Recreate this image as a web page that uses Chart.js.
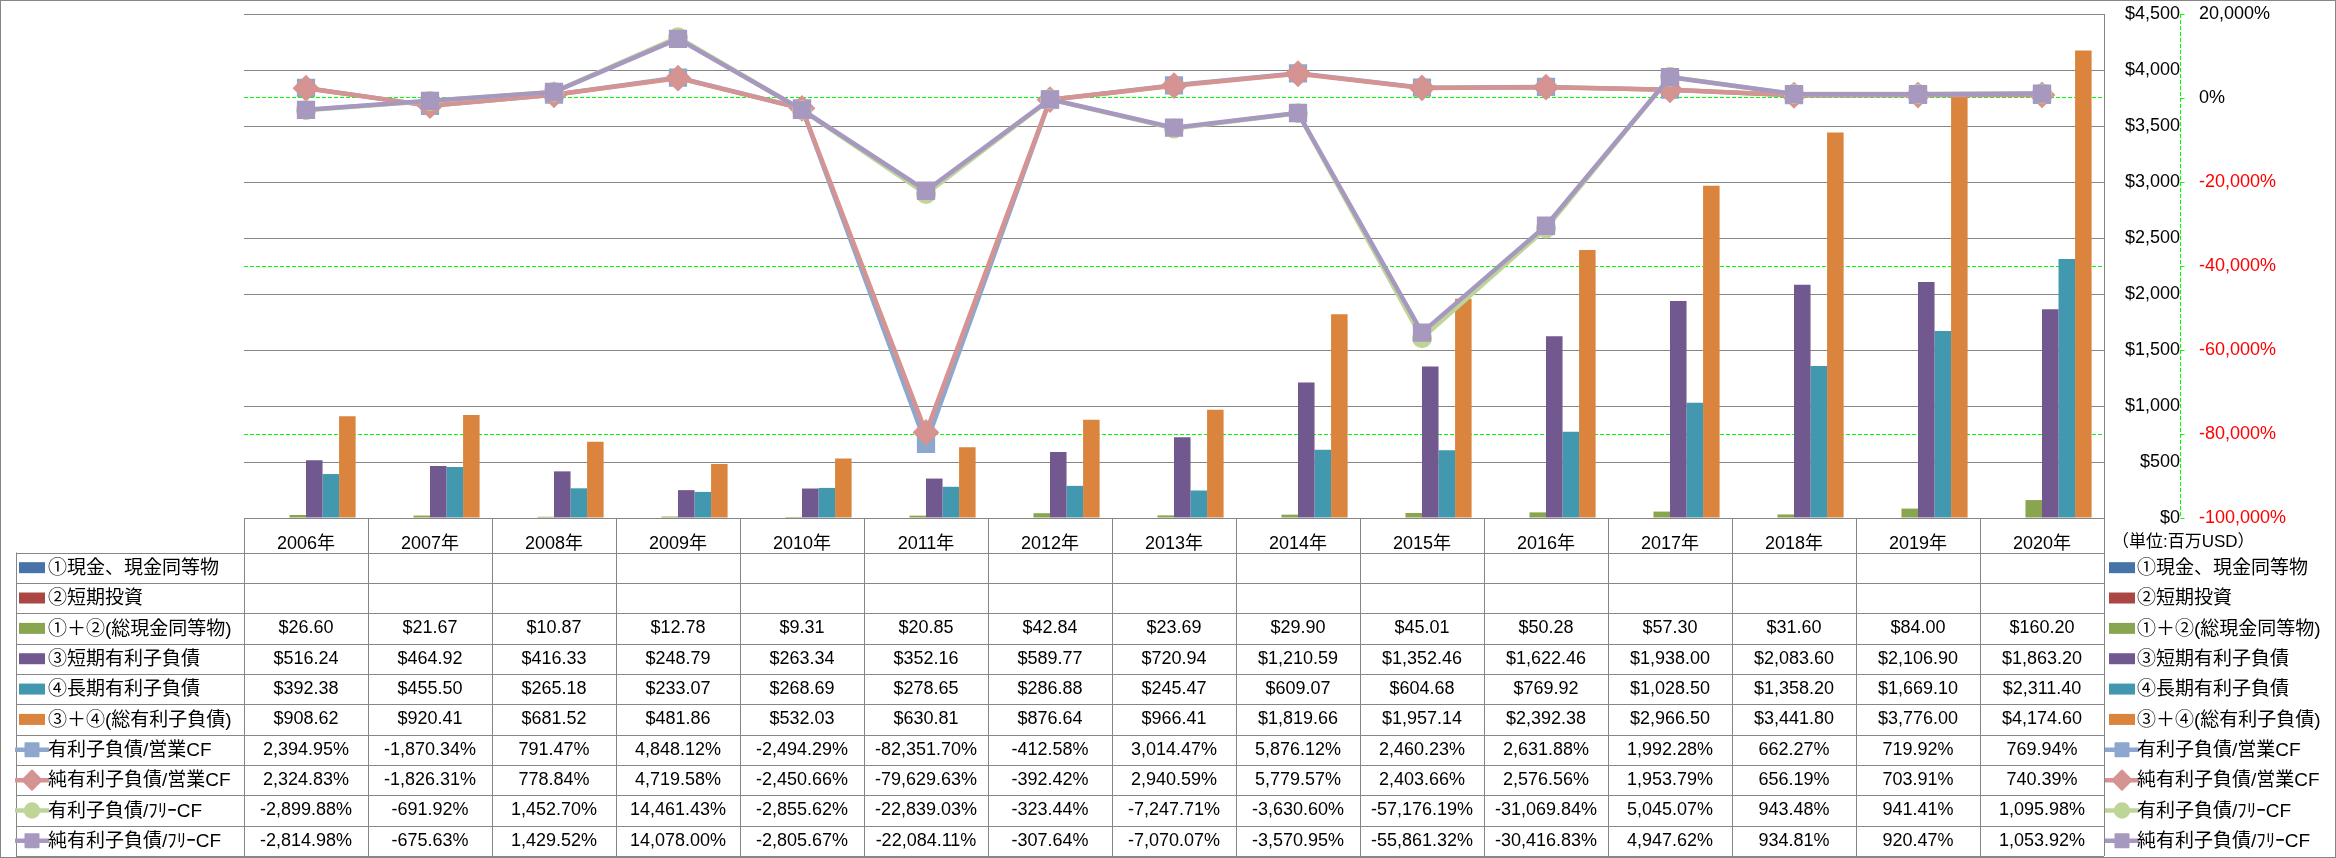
<!DOCTYPE html>
<html><head><meta charset="utf-8">
<script src="https://cdn.jsdelivr.net/npm/chart.js@4.4.1/dist/chart.umd.min.js"></script>
<style>html,body{margin:0;padding:0;background:#fff;} #wrap{width:2336px;height:858px;position:relative;}</style>
</head><body><div id="wrap"><canvas id="c"></canvas></div>
<script>
// ---------- DATA ----------
const categories = ['2006年','2007年','2008年','2009年','2010年','2011年','2012年','2013年','2014年','2015年','2016年','2017年','2018年','2019年','2020年'];
const cashEquivalents = [null,null,null,null,null,null,null,null,null,null,null,null,null,null,null];
const shortTermInvestments = [null,null,null,null,null,null,null,null,null,null,null,null,null,null,null];
const totalCash = [26.60,21.67,10.87,12.78,9.31,20.85,42.84,23.69,29.90,45.01,50.28,57.30,31.60,84.00,160.20];
const shortTermDebt = [516.24,464.92,416.33,248.79,263.34,352.16,589.77,720.94,1210.59,1352.46,1622.46,1938.00,2083.60,2106.90,1863.20];
const longTermDebt = [392.38,455.50,265.18,233.07,268.69,278.65,286.88,245.47,609.07,604.68,769.92,1028.50,1358.20,1669.10,2311.40];
const totalDebt = [908.62,920.41,681.52,481.86,532.03,630.81,876.64,966.41,1819.66,1957.14,2392.38,2966.50,3441.80,3776.00,4174.60];
const debtToOpCF = [2394.95,-1870.34,791.47,4848.12,-2494.29,-82351.70,-412.58,3014.47,5876.12,2460.23,2631.88,1992.28,662.27,719.92,769.94];
const netDebtToOpCF = [2324.83,-1826.31,778.84,4719.58,-2450.66,-79629.63,-392.42,2940.59,5779.57,2403.66,2576.56,1953.79,656.19,703.91,740.39];
const debtToFCF = [-2899.88,-691.92,1452.70,14461.43,-2855.62,-22839.03,-323.44,-7247.71,-3630.60,-57176.19,-31069.84,5045.07,943.48,941.41,1095.98];
const netDebtToFCF = [-2814.98,-675.63,1429.52,14078.00,-2805.67,-22084.11,-307.64,-7070.07,-3570.95,-55861.32,-30416.83,4947.62,934.81,920.47,1053.92];
const seriesNames = ['①現金、現金同等物','②短期投資','①＋②(総現金同等物)','③短期有利子負債','④長期有利子負債','③＋④(総有利子負債)','有利子負債/営業CF','純有利子負債/営業CF','有利子負債/ﾌﾘｰCF','純有利子負債/ﾌﾘｰCF'];
const leftAxisTicks = [0,500,1000,1500,2000,2500,3000,3500,4000,4500];
const rightAxisTicks = [-100000,-80000,-60000,-40000,-20000,0,20000];
const unitLabel = '（単位:百万USD）';

// ---------- STYLE ----------
const FONT = "'Liberation Sans','Noto Sans CJK JP','Noto Sans',sans-serif";
const GRAY = '#868686';
const LIME = '#00FF00';
const barColors = ['#4673A8','#AA4644','#8AA54F','#71598F','#4198AF','#DB843D'];
const lineColors = ['#8DA7CF','#D59391','#BED598','#A698BF'];
const pointStyles = ['rect','rectRot','circle','rect'];
const pointRadii = [11.5,12,9,11.5];
const limeGridValues = [0,-40000,-80000];

const barSeries = [cashEquivalents, shortTermInvestments, totalCash, shortTermDebt, longTermDebt, totalDebt];
const lineSeries = [debtToOpCF, netDebtToOpCF, debtToFCF, netDebtToFCF];

const datasets = [];
barSeries.forEach((d,i)=>datasets.push({
  type:'bar', label:seriesNames[i], data:d, backgroundColor:barColors[i], yAxisID:'y',
  order:10+i, categoryPercentage:0.8, barPercentage:1.0
}));
lineSeries.forEach((d,i)=>datasets.push({
  type:'line', label:seriesNames[6+i], data:d, borderColor:lineColors[i], backgroundColor:lineColors[i],
  borderWidth:4.5, pointStyle:pointStyles[i], pointRadius:pointRadii[i], pointBorderWidth:2,
  pointBorderColor:lineColors[i], pointBackgroundColor:lineColors[i], yAxisID:'y2', order:3-i, tension:0
}));

const fmtMoney = v => '$' + v.toLocaleString('en-US',{minimumFractionDigits:2,maximumFractionDigits:2});
const fmtPct = v => v.toLocaleString('en-US',{minimumFractionDigits:2,maximumFractionDigits:2}) + '%';
const tableRows = [
  ...barSeries.map((d,i)=>({name:seriesNames[i], values:d, fmt:fmtMoney, kind:'bar', idx:i})),
  ...lineSeries.map((d,i)=>({name:seriesNames[6+i], values:d, fmt:fmtPct, kind:'line', idx:i}))
];

function drawSwatch(ctx, row, cx, cy){
  ctx.save();
  if(row.kind==='bar'){
    ctx.fillStyle = barColors[row.idx];
    ctx.fillRect(cx-13, cy-5.5, 26, 11);
  } else {
    const c = lineColors[row.idx];
    ctx.strokeStyle = c; ctx.lineWidth = 4.5;
    ctx.beginPath(); ctx.moveTo(cx-17, cy); ctx.lineTo(cx+17, cy); ctx.stroke();
    ctx.fillStyle = c; ctx.strokeStyle = c; ctx.lineWidth = 2; ctx.lineJoin = 'round';
    Chart.helpers.drawPoint(ctx, {pointStyle:pointStyles[row.idx], radius:pointRadii[row.idx]*0.8, borderWidth:2, rotation:0}, cx, cy);
  }
  ctx.restore();
}

const tablePlugin = {
  id:'dataTable',
  afterDraw(chart){
    const ctx = chart.ctx;
    const xs = chart.scales.x;
    const y2 = chart.scales.y2;
    const area = chart.chartArea;
    const n = categories.length;
    const colW = (xs.right - xs.left)/n;
    const top = area.bottom;
    const rowTop = top + 34.5, rowH = 30.35;
    const tableBottom = rowTop + rowH*tableRows.length;
    const legendLeft = 16;
    ctx.save();
    // secondary axis line (dashed lime) and its tick marks
    const ax = Math.round(y2.left)+0.5;
    ctx.strokeStyle = LIME; ctx.lineWidth = 1; ctx.setLineDash([4,2]);
    ctx.beginPath(); ctx.moveTo(ax, area.top); ctx.lineTo(ax, area.bottom); ctx.stroke();
    ctx.setLineDash([]);
    ctx.beginPath();
    rightAxisTicks.forEach(v=>{ const y = Math.round(y2.getPixelForValue(v))+0.5; ctx.moveTo(ax, y); ctx.lineTo(ax+4, y); });
    ctx.stroke();
    // grid lines of table
    ctx.strokeStyle = GRAY; ctx.lineWidth = 1;
    ctx.beginPath();
    for(let k=0;k<=tableRows.length;k++){
      const y = Math.round(rowTop + k*rowH)+0.5;
      ctx.moveTo(legendLeft, y); ctx.lineTo(xs.right, y);
    }
    for(let i=0;i<=n;i++){
      const x = Math.round(xs.getPixelForValue(0) - colW/2 + i*colW)+0.5;
      ctx.moveTo(x, top); ctx.lineTo(x, tableBottom);
    }
    ctx.moveTo(legendLeft+0.5, rowTop); ctx.lineTo(legendLeft+0.5, tableBottom);
    ctx.stroke();
    // outer border of chart
    ctx.strokeRect(0.5, 0.5, chart.width-1, chart.height-1);
    // cell values
    ctx.fillStyle = '#000';
    ctx.font = '18px ' + FONT;
    ctx.textAlign = 'center'; ctx.textBaseline = 'middle';
    tableRows.forEach((row,k)=>{
      const cy = rowTop + k*rowH + rowH/2;
      row.values.forEach((v,i)=>{
        if(v===null || v===undefined) return;
        ctx.fillText(row.fmt(v), xs.getPixelForValue(i), cy);
      });
    });
    // legend labels (left column and right side)
    ctx.textAlign = 'left';
    ctx.font = '19px ' + FONT;
    tableRows.forEach((row,k)=>{
      const cy = rowTop + k*rowH + rowH/2;
      drawSwatch(ctx,row,32,cy);
      ctx.fillStyle = '#000';
      ctx.fillText(row.name, 48, cy+1);
      drawSwatch(ctx,row,xs.right+18,cy);
      ctx.fillStyle = '#000';
      ctx.fillText(row.name, xs.right+33, cy+1);
    });
    ctx.font = '17px ' + FONT;
    ctx.fillText(unitLabel, xs.right+8, top+24);
    ctx.restore();
  }
};

new Chart(document.getElementById('c'), {
  data:{labels:categories, datasets},
  options:{
    responsive:true, maintainAspectRatio:false, animation:false,
    layout:{padding:{left:244, top:13, right:36, bottom:0}},
    plugins:{legend:{display:false}, tooltip:{enabled:false}},
    scales:{
      x:{type:'category', position:'bottom', offset:true,
        grid:{display:false},
        border:{display:true, color:GRAY, width:1},
        ticks:{color:'#000', font:{family:FONT, size:18}, padding:7, maxRotation:0, autoSkip:false},
        afterFit:s=>{s.height=340; s.paddingLeft=0; s.paddingRight=0;}},
      y:{position:'right', min:0, max:4500,
        afterBuildTicks:s=>{s.ticks = leftAxisTicks.map(v=>({value:v}));},
        grid:{color:GRAY, lineWidth:1, drawTicks:false},
        border:{display:true, color:GRAY, width:1},
        ticks:{color:'#000', font:{family:FONT, size:18}, padding:19, crossAlign:'far',
          callback:v=>'$'+Number(v).toLocaleString('en-US')},
        afterFit:s=>{s.width=76; s.paddingTop=0; s.paddingBottom=0;}},
      y2:{position:'right', min:-100000, max:20000,
        afterBuildTicks:s=>{s.ticks = rightAxisTicks.map(v=>({value:v}));},
        grid:{drawOnChartArea:true, drawTicks:false, lineWidth:1,
          color:c=> (c.tick && limeGridValues.includes(c.tick.value)) ? LIME : 'rgba(0,0,0,0)'},
        border:{display:false, dash:[4,2]},
        ticks:{font:{family:FONT, size:18}, padding:19, crossAlign:'near',
          color:c=> (c.tick && c.tick.value<0) ? '#FF0000' : '#000000',
          callback:v=>Number(v).toLocaleString('en-US')+'%'},
        afterFit:s=>{s.width=120; s.paddingTop=0; s.paddingBottom=0;}}
    }
  },
  plugins:[tablePlugin]
});
</script></body></html>
